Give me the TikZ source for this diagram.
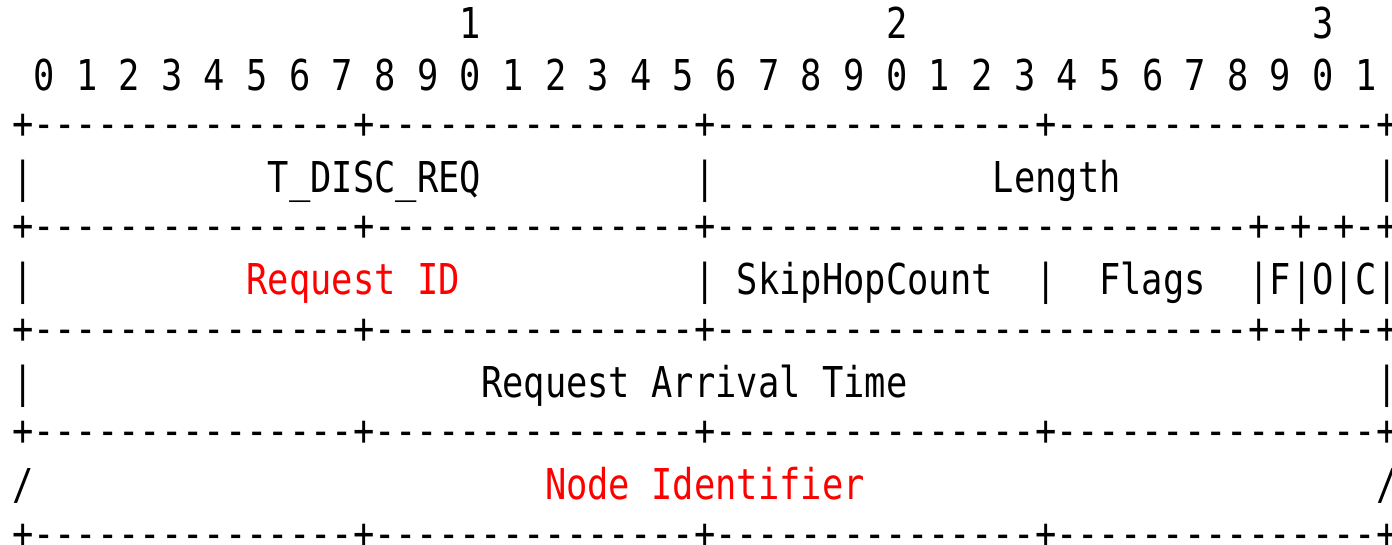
\documentclass[tikz,border=0pt]{standalone}
\usepackage{fontspec}
\newfontfamily\asciifont[FakeStretch=0.833,Ligatures=TeXOff]{DejaVu Sans Mono}
\definecolor{fieldred}{RGB}{255,0,0}
\newcommand\colx[1]{12.04+21.32*#1}
\begin{document}
\begin{tikzpicture}[x=1pt,y=1pt,
  txt/.style={anchor=base west,inner sep=0pt,outer sep=0pt,
    font=\asciifont\fontsize{42.5}{51}\selectfont,text=black},
  redtxt/.style={txt,text=fieldred}]
\useasboundingbox (0,0) rectangle (1392,-544);
% scale header
\node[txt] (t1) at ({\colx{21}},-38.8) {1};
\node[txt] (t2) at ({\colx{41}},-38.8) {2};
\node[txt] (t3) at ({\colx{61}},-38.8) {3};
\foreach \i in {0,...,31}{
  \pgfmathtruncatemacro\d{mod(\i,10)}
  \node[txt] (b\i) at ({\colx{(2*\i+1)}},-90) {\d};
}
% separators
\node[txt] (s3) at ({\colx{0}},-138.4) {+---------------+---------------+---------------+---------------+};
\node[txt] (s5) at ({\colx{0}},-240.8) {+---------------+---------------+-------------------------+-+-+-+};
\node[txt] (s7) at ({\colx{0}},-343.2) {+---------------+---------------+-------------------------+-+-+-+};
\node[txt] (s9) at ({\colx{0}},-445.6) {+---------------+---------------+---------------+---------------+};
\node[txt] (s11) at ({\colx{0}},-548.0) {+---------------+---------------+---------------+---------------+};
% row 1
\node[txt] (r4a) at ({\colx{0}},-192.4) {|};
\node[txt] (tdisc) at ({\colx{12}},-192.4) {T\_DISC\_REQ};
\node[txt] (r4b) at ({\colx{32}},-192.4) {|};
\node[txt] (len) at ({\colx{46}},-192.4) {Length};
\node[txt] (r4c) at ({\colx{64}},-192.4) {|};
% row 2
\node[txt] (r6a) at ({\colx{0}},-294.8) {|};
\node[redtxt] (reqid) at ({\colx{11}},-294.8) {Request\ ID};
\node[txt] (r6b) at ({\colx{32}},-294.8) {|};
\node[txt] (skip) at ({\colx{34}},-294.8) {SkipHopCount};
\node[txt] (r6c) at ({\colx{48}},-294.8) {|};
\node[txt] (flags) at ({\colx{51}},-294.8) {Flags};
\node[txt] (foc) at ({\colx{58}},-294.8) {|F|O|C|};
% row 3
\node[txt] (r8a) at ({\colx{0}},-397.2) {|};
\node[txt] (rat) at ({\colx{22}},-397.2) {Request\ Arrival\ Time};
\node[txt] (r8b) at ({\colx{64}},-397.2) {|};
% row 4
\node[txt] (r10a) at ({\colx{0}},-499.6) {/};
\node[redtxt] (nodeid) at ({\colx{25}},-499.6) {Node\ Identifier};
\node[txt] (r10b) at ({\colx{64}},-499.6) {/};
\end{tikzpicture}
\end{document}
